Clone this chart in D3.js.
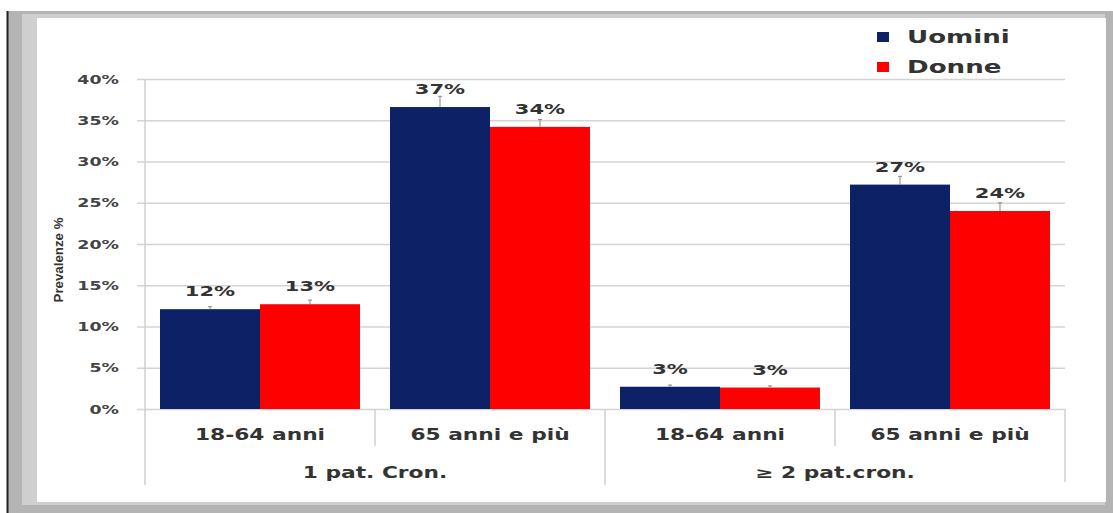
<!DOCTYPE html>
<html>
<head>
<meta charset="utf-8">
<script src="https://cdn.jsdelivr.net/npm/d3@7"></script>
<style>
  html, body { margin: 0; padding: 0; background: #fff; }
  svg { display: block; }
</style>
</head>
<body>
<svg id="chart" width="1113" height="513"></svg>
<script>
// ---- data ----
const groups = ["1 pat. Cron.", "≥ 2 pat.cron."];
const ageClasses = ["18-64 anni", "65 anni e più"];
const series = ["Uomini", "Donne"];
const uomini = [12.1, 36.6, 2.7, 27.2];
const donne  = [12.7, 34.2, 2.6, 24.0];
const uominiLabels = ["12%", "37%", "3%", "27%"];
const donneLabels  = ["13%", "34%", "3%", "24%"];
const errUomini = [0.3, 1.3, 0.2, 1.0];
const errDonne  = [0.5, 0.9, 0.2, 1.0];
const yTicks = [0, 5, 10, 15, 20, 25, 30, 35, 40];
const colors = ["#0d2266", "#ff0000"];

(function () {
const svg = d3.select("#chart");
const W = 1113, H = 513;
const SX = 1.45; // horizontal stretch of the source image's text
const FONT = "DejaVu Sans, Verdana, sans-serif";

function txt(x, y, str, size, anchor, fill) {
  return svg.append("text")
    .attr("transform", `translate(${x},${y}) scale(${SX},1)`)
    .attr("text-anchor", anchor || "middle")
    .attr("font-family", FONT).attr("font-size", size).attr("font-weight", "bold")
    .attr("fill", fill || "#333").text(str);
}

// frame
svg.append("rect").attr("x", 0).attr("y", 0).attr("width", W).attr("height", H).attr("fill", "#fff");
svg.append("rect").attr("x", 8).attr("y", 11).attr("width", W - 8).attr("height", H - 11).attr("fill", "#b4b4b4");
svg.append("rect").attr("x", 22).attr("y", 14).attr("width", W - 30).attr("height", H - 22).attr("fill", "#cfcfcf");
svg.append("rect").attr("x", 37).attr("y", 18).attr("width", 1069).attr("height", 484).attr("fill", "#ffffff");
svg.append("line").attr("x1", 7.5).attr("x2", 7.5).attr("y1", 11).attr("y2", H).attr("stroke", "#222").attr("stroke-width", 2);

const pL = 145, pR = 1065, pT = 79, pB = 409;

// categories: group|age
const cats = [];
groups.forEach(g => ageClasses.forEach(a => cats.push(g + "|" + a)));

const x0 = d3.scaleBand().domain(cats).range([pL, pR]).paddingInner(0).paddingOuter(0);
const x1 = d3.scaleBand().domain(series).range([0, x0.bandwidth()]).paddingOuter(0.15).paddingInner(0);
const xg = d3.scaleBand().domain(groups).range([pL, pR]);
const y = d3.scaleLinear().domain([0, 40]).range([pB, pT]);

// gridlines via axis
const yAxis = d3.axisLeft(y).tickValues(yTicks).tickFormat("").tickSize(-(pR - pL + 8));
const yg = svg.append("g").attr("transform", `translate(${pL - 8},0)`).call(yAxis);
yg.select(".domain").remove();
yg.selectAll(".tick line").attr("stroke", "#d4d4d4").attr("stroke-width", 1.5);
// tick labels (stretched like the source)
yTicks.forEach(t => txt(119, y(t) + 4.5, t + "%", 12, "end", "#444"));

// y axis line extending through category area
svg.append("line").attr("x1", pL).attr("x2", pL).attr("y1", pT).attr("y2", 485)
  .attr("stroke", "#cfcfcf").attr("stroke-width", 1.5);

// separators
cats.forEach((c, i) => {
  if (i === 0) return;
  const xx = x0(c);
  const isGroupEdge = c.endsWith(ageClasses[0]);
  svg.append("line").attr("x1", xx).attr("x2", xx).attr("y1", pB).attr("y2", isGroupEdge ? 485 : 446)
    .attr("stroke", "#d0d0d0").attr("stroke-width", 1.5);
});
svg.append("line").attr("x1", pR).attr("x2", pR).attr("y1", pB).attr("y2", 482)
  .attr("stroke", "#d0d0d0").attr("stroke-width", 1.5);

// bars
const vals = [uomini, donne];
const labs = [uominiLabels, donneLabels];
const errs = [errUomini, errDonne];
series.forEach((s, si) => {
  cats.forEach((c, ci) => {
    const v = vals[si][ci];
    const bx = x0(c) + x1(s);
    svg.append("rect").attr("x", bx).attr("y", y(v)).attr("width", x1.bandwidth()).attr("height", y(0) - y(v))
      .attr("fill", colors[si]);
  });
});
series.forEach((s, si) => {
  cats.forEach((c, ci) => {
    const v = vals[si][ci];
    const cx = x0(c) + x1(s) + x1.bandwidth() / 2;
    const e = errs[si][ci];
    svg.append("line").attr("x1", cx).attr("x2", cx).attr("y1", y(v)).attr("y2", y(v + e))
      .attr("stroke", "#888").attr("stroke-width", 1);
    svg.append("line").attr("x1", cx - 2).attr("x2", cx + 2).attr("y1", y(v + e)).attr("y2", y(v + e))
      .attr("stroke", "#888").attr("stroke-width", 1);
    txt(cx, y(v) - 13, labs[si][ci], 14.5);
  });
});

// category labels
cats.forEach(c => txt(x0(c) + x0.bandwidth() / 2, 440, c.split("|")[1], 15));
groups.forEach(g => txt(xg(g) + xg.bandwidth() / 2, 478, g, 15));

// y axis title
svg.append("text").attr("transform", `translate(63,${(pT + pB) / 2 + 16}) rotate(-90)`)
  .attr("text-anchor", "middle")
  .attr("font-family", "Liberation Sans Narrow, Arial Narrow, sans-serif").attr("font-size", 13).attr("font-weight", "bold")
  .attr("fill", "#333").attr("textLength", 85).attr("lengthAdjust", "spacingAndGlyphs").text("Prevalenze %");

// legend
series.forEach((s, i) => {
  const ly = 37 + i * 30;
  svg.append("rect").attr("x", 877).attr("y", ly - 5).attr("width", 12).attr("height", 10).attr("fill", colors[i]);
  txt(907, ly + 6, s, 18, "start");
});
})();
</script>
</body>
</html>
